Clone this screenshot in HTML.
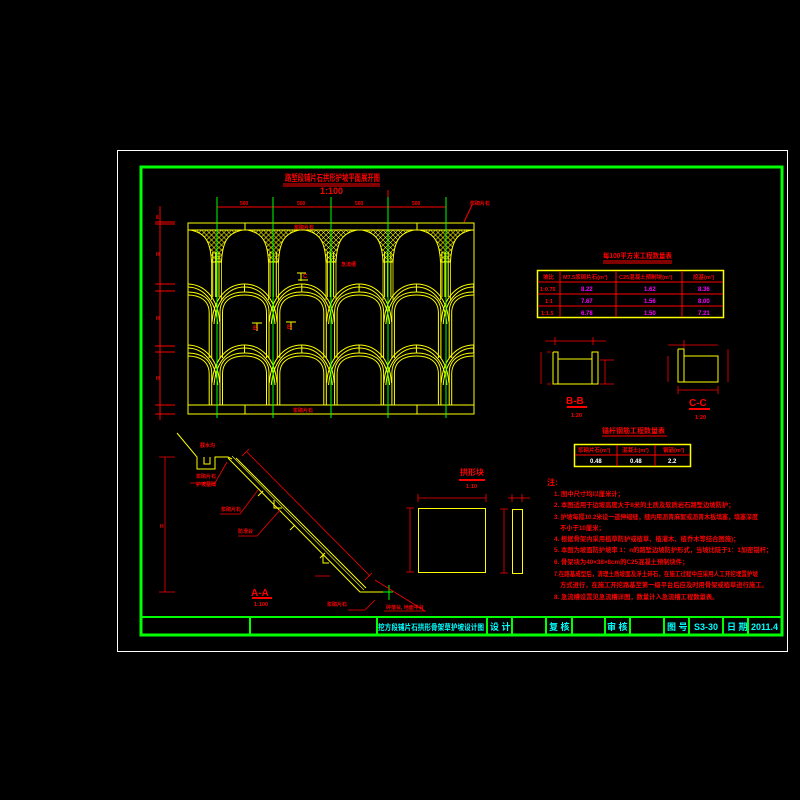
<!DOCTYPE html>
<html><head><meta charset="utf-8"><style>
html,body{margin:0;padding:0;background:#000;}
svg{display:block}
text{font-family:"Liberation Sans","Noto Sans CJK SC",sans-serif;font-weight:bold;}
</style></head><body>
<svg width="800" height="800" viewBox="0 0 800 800" xmlns="http://www.w3.org/2000/svg">
<defs>
<pattern id="lat" width="5" height="5" patternUnits="userSpaceOnUse">
<path d="M0,0 L5,5 M5,0 L0,5" stroke="#ff0" stroke-width="0.6"/>
</pattern>
<clipPath id="cp"><rect x="188" y="223" width="286" height="191"/></clipPath>
<g id="cell" fill="none" stroke="#ff0" stroke-width="1">
<path d="M-4,252 V297 M-1,252 V297 M50,252 V297 M53,252 V297"/>
<path d="M-8,322 C-6,296 9,284 24.5,284 C40,284 55,296 57,322"/>
<path d="M-6,324 C-4,299 10,287 24.5,287 C39,287 53,299 55,324"/>
<path d="M0,358 V312 C0,298 11,292 24.5,292 C38,292 49,298 49,312 V358"/>
<path d="M2.5,358 V313 C2.5,300 12,295 24.5,295 C37,295 46.5,300 46.5,313 V358"/>
<path d="M24.5,284 V292"/>
<path d="M-8,383 C-6,357 9,345 24.5,345 C40,345 55,357 57,383"/>
<path d="M-6,385 C-4,360 10,348 24.5,348 C39,348 53,360 55,385"/>
<path d="M0,405 V373 C0,359 11,353 24.5,353 C38,353 49,359 49,373 V405"/>
<path d="M2.5,405 V374 C2.5,361 12,356 24.5,356 C37,356 46.5,361 46.5,374 V405"/>
<path d="M24.5,345 V353"/>
</g>
<g id="orn">
<path d="M-26,230 H26 C12,233 6,240 5,262 H-5 C-6,240 -12,233 -26,230 Z" fill="url(#lat)" stroke="#ff0" stroke-width="1"/>
<path d="M-5,262 V300 M5,262 V300" stroke="#ff0" stroke-width="0.8"/>
</g>
</defs>

<rect x="117.5" y="150.5" width="670" height="501" fill="none" stroke="#fff" stroke-width="1"/>
<rect x="141" y="167" width="641" height="468" fill="none" stroke="#0f0" stroke-width="3"/>
<line x1="141" y1="617" x2="782" y2="617" stroke="#0f0" stroke-width="2"/>
<g stroke="#0f0" stroke-width="2">
<line x1="250" y1="617" x2="250" y2="635"/><line x1="377" y1="617" x2="377" y2="635"/>
<line x1="487" y1="617" x2="487" y2="635"/><line x1="512" y1="617" x2="512" y2="635"/>
<line x1="546" y1="617" x2="546" y2="635"/><line x1="572" y1="617" x2="572" y2="635"/>
<line x1="605" y1="617" x2="605" y2="635"/><line x1="630" y1="617" x2="630" y2="635"/>
<line x1="664" y1="617" x2="664" y2="635"/><line x1="689" y1="617" x2="689" y2="635"/>
<line x1="723" y1="617" x2="723" y2="635"/><line x1="748" y1="617" x2="748" y2="635"/>
</g>
<g fill="#0ff" font-size="9">
<text x="378" y="630" font-size="8" textLength="106" lengthAdjust="spacingAndGlyphs">挖方段铺片石拱形骨架草护坡设计图</text>
<text x="490" y="630">设 计</text>
<text x="549" y="630">复 核</text>
<text x="607" y="630">审 核</text>
<text x="667" y="630">图 号</text>
<text x="694" y="630">S3-30</text>
<text x="727" y="630">日 期</text>
<text x="751" y="630">2011.4</text>
</g>

<text x="285" y="181" fill="#f00" font-size="9" textLength="95" lengthAdjust="spacingAndGlyphs">路堑段铺片石拱形护坡平面展开图</text>
<line x1="283" y1="184" x2="380" y2="184" stroke="#f00"/><line x1="283" y1="186" x2="380" y2="186" stroke="#f00"/>
<text x="320" y="194" fill="#f00" font-size="9">1:100</text>
<g stroke="#f00" stroke-width="1">
<line x1="217" y1="207" x2="446" y2="207"/>
<line x1="160" y1="206" x2="160" y2="420"/>
<line x1="155" y1="222" x2="175" y2="222"/><line x1="155" y1="224" x2="175" y2="224"/>
<line x1="155" y1="284" x2="175" y2="284"/><line x1="155" y1="291" x2="175" y2="291"/>
<line x1="155" y1="346" x2="175" y2="346"/><line x1="155" y1="352" x2="175" y2="352"/>
<line x1="155" y1="405" x2="175" y2="405"/><line x1="155" y1="414" x2="175" y2="414"/>
<line x1="464" y1="222" x2="472" y2="205"/>
<line x1="388" y1="190" x2="388" y2="200"/>
</g>
<g fill="#f00" font-size="5">
<text x="240" y="205">500</text><text x="297" y="205">500</text><text x="355" y="205">500</text><text x="412" y="205">500</text>
<text x="470" y="205">浆砌片石</text><text x="294" y="229">浆砌片石</text><text x="293" y="412">浆砌片石</text><text x="341" y="266">急流槽</text>
<text x="156" y="219">8</text><text x="156" y="256">H</text><text x="156" y="320">H</text><text x="156" y="380">H</text>
</g>
<g stroke="#ff0" fill="none" stroke-width="1">
<rect x="188" y="223" width="286" height="191"/>
<line x1="188" y1="230" x2="474" y2="230"/>
<line x1="188" y1="405" x2="474" y2="405"/>
<line x1="245" y1="223" x2="245" y2="230"/><line x1="417" y1="223" x2="417" y2="230"/>
<line x1="245" y1="405" x2="245" y2="414"/><line x1="417" y1="405" x2="417" y2="414"/>
</g>
<g clip-path="url(#cp)">
<use href="#cell" x="162.7"/><use href="#cell" x="220"/><use href="#cell" x="277.3"/>
<use href="#cell" x="334.6"/><use href="#cell" x="391.9"/><use href="#cell" x="449.2"/>
<use href="#orn" x="216.5"/><use href="#orn" x="273.5"/><use href="#orn" x="331"/>
<use href="#orn" x="388"/><use href="#orn" x="445.5"/>
</g>
<g stroke="#0f0" stroke-width="1">
<line x1="217" y1="197" x2="217" y2="418"/><line x1="273" y1="197" x2="273" y2="418"/>
<line x1="331" y1="197" x2="331" y2="418"/><line x1="388" y1="197" x2="388" y2="418"/>
<line x1="446" y1="197" x2="446" y2="418"/>
</g>
<g stroke="#ff0" fill="none"><path d="M252,323 h10 M257,323 v8 M286,322 h10 M291,322 v8 M297,273 h9 M301,273 v8 M298,280 h10"/></g>
<g fill="#f00" font-size="6"><text x="253" y="330">B</text><text x="287" y="329">B</text><text x="303" y="278">C</text></g>

<text x="603" y="258" fill="#f00" font-size="7" textLength="69" lengthAdjust="spacingAndGlyphs">每100平方米工程数量表</text>
<line x1="603" y1="261" x2="672" y2="261" stroke="#f00"/><line x1="603" y1="263" x2="672" y2="263" stroke="#f00"/>
<rect x="537.5" y="270.5" width="186" height="47" fill="none" stroke="#ff0" stroke-width="1.5"/>
<g stroke="#f00"><line x1="538" y1="282" x2="723" y2="282"/><line x1="538" y1="294" x2="723" y2="294"/><line x1="538" y1="306" x2="723" y2="306"/>
<line x1="560" y1="271" x2="560" y2="317"/><line x1="616" y1="271" x2="616" y2="317"/><line x1="682" y1="271" x2="682" y2="317"/></g>
<g fill="#f00" font-size="5.5"><text x="543" y="279">坡比</text><text x="563" y="279">M7.5浆砌片石(m³)</text><text x="619" y="279">C25混凝土预制块(m³)</text><text x="693" y="279">挖基(m³)</text>
<text x="540" y="291">1:0.75</text><text x="545" y="303">1:1</text><text x="541" y="315">1:1.5</text></g>
<g fill="#f0f" font-size="6"><text x="581" y="291">8.22</text><text x="644" y="291">1.62</text><text x="698" y="291">8.36</text>
<text x="581" y="303">7.67</text><text x="644" y="303">1.56</text><text x="698" y="303">8.00</text>
<text x="581" y="315">6.78</text><text x="644" y="315">1.50</text><text x="698" y="315">7.21</text></g>

<g stroke="#ff0" fill="none"><path d="M553,352 V384 H598 V352 H592 V384 M553,352 H558 V384 M558,359 H592"/></g>
<g stroke="#f00" fill="none" stroke-width="0.8"><path d="M545,341 H606 M555,337 V345 M593,337 V345 M541,352 V384 M605,360 V384 M547,352 H551 M547,384 H551 M600,384 H614 M600,360 H614"/></g>
<text x="566" y="404" fill="#f00" font-size="10">B-B</text>
<rect x="567" y="406" width="20" height="2" fill="#f00"/>
<text x="571" y="417" fill="#f00" font-size="5.5">1:20</text>
<g stroke="#ff0" fill="none"><path d="M678,349 H684 V382 H718 V356 H684 M678,349 V382 H684"/></g>
<g stroke="#f00" fill="none" stroke-width="0.8"><path d="M668,345 H718 M684,340 V348 M668,356 V382 M678,390 H718 M678,386 V394 M718,386 V394 M728,349 V382"/></g>
<text x="689" y="406" fill="#f00" font-size="10">C-C</text>
<rect x="689" y="408" width="21" height="2" fill="#f00"/>
<text x="695" y="419" fill="#f00" font-size="5.5">1:20</text>

<text x="602" y="433" fill="#f00" font-size="7" textLength="63" lengthAdjust="spacingAndGlyphs">锚杆钢筋工程数量表</text>
<line x1="602" y1="436" x2="667" y2="436" stroke="#f00"/>
<rect x="574.5" y="444.5" width="116" height="22" fill="none" stroke="#ff0" stroke-width="1.5"/>
<g stroke="#f00"><line x1="575" y1="455" x2="690" y2="455"/><line x1="617" y1="445" x2="617" y2="466"/><line x1="655" y1="445" x2="655" y2="466"/></g>
<g fill="#f00" font-size="5.5"><text x="578" y="452">浆砌片石(m³)</text><text x="622" y="452">混凝土(m³)</text><text x="663" y="452">钢筋(m³)</text></g>
<g fill="#fff" font-size="6"><text x="590" y="463">0.48</text><text x="630" y="463">0.48</text><text x="668" y="463">2.2</text></g>

<g fill="#f00" font-size="6.3">
<text x="547" y="485" font-size="8">注:</text>
<text x="554" y="496">1. 图中尺寸均以厘米计；</text>
<text x="554" y="507">2. 本图适用于边坡高度大于8米的土质及软质岩石路堑边坡防护；</text>
<text x="554" y="519" textLength="204" lengthAdjust="spacingAndGlyphs">3. 护坡每隔10.2米设一道伸缩缝，缝内用沥青麻絮或沥青木板填塞，填塞深度</text>
<text x="560" y="530">不小于10厘米；</text>
<text x="554" y="541">4. 根据骨架内采用植草防护或植草、植灌木、植乔木等结合图施)；</text>
<text x="554" y="552">5. 本图为坡面防护坡率 1：n的路堑边坡防护形式，当坡比陡于1：1加密锚杆；</text>
<text x="554" y="564">6. 骨架块为40×38×8cm的C25混凝土预制块件；</text>
<text x="554" y="576" textLength="204" lengthAdjust="spacingAndGlyphs">7.在路基成型后，清理土质坡面及浮土碎石，在施工过程中应采用人工开挖埋置护坡</text>
<text x="560" y="587">方式进行，在施工开挖路基至第一级平台后应及时用骨架或植草进行施工。</text>
<text x="554" y="599">8. 急流槽设置见急流槽详图，数量计入急流槽工程数量表。</text>
</g>

<g stroke="#ff0" fill="none" stroke-width="1">
<path d="M177,433 L197,457 V469 H215 V457 H228 L232,459"/>
<path d="M204,457 V464 H210 V457"/>
<path d="M228,458 L360,592 H390"/>
<path d="M236,458 L366,588"/>
<path d="M232,456 L364,590" stroke-width="0.6"/>
<path d="M258,496 l5,-5 M290,530 l5,-5 M320,558 l5,-5 M274,500 v8 h8 M323,555 v8 h6"/>
</g>
<g stroke="#0f0"><line x1="389" y1="585" x2="389" y2="600"/><line x1="383" y1="592" x2="393" y2="592"/></g>
<g stroke="#f00" fill="none" stroke-width="0.8">
<path d="M165,457 V592 M159,457 H175 M159,592 H175"/>
<path d="M247,452 L370,576 M242,456 L249,449 M365,580 L372,573"/>
<path d="M190,483 H215 L227,462 M220,514 H240 L258,490 M238,536 H257 L280,510 M348,610 H365 L375,600 M384,611 H425 L375,580 M315,576 H330"/>
</g>
<g fill="#f00" font-size="5">
<text x="200" y="447">截水沟</text><text x="196" y="478">浆砌片石</text><text x="196" y="486">护坡基础</text>
<text x="221" y="511">浆砌片石</text><text x="238" y="533">防滑台</text><text x="327" y="606">浆砌片石</text><text x="386" y="609">碎落台, 地面平台</text>
<text x="160" y="528">H</text>
</g>
<text x="251" y="596" fill="#f00" font-size="10">A-A</text>
<rect x="252" y="597" width="20" height="2" fill="#f00"/>
<text x="254" y="606" fill="#f00" font-size="5.5">1:100</text>

<text x="460" y="475" fill="#f00" font-size="8">拱形块</text>
<rect x="459" y="479" width="26" height="2" fill="#f00"/>
<text x="466" y="488" fill="#f00" font-size="5.5">1:10</text>
<rect x="418.5" y="508.5" width="67" height="64" fill="none" stroke="#ff0"/>
<rect x="512.5" y="509.5" width="10" height="64" fill="none" stroke="#ff0"/>
<g stroke="#f00" fill="none" stroke-width="0.8">
<path d="M418,498 H486 M418,494 V502 M486,494 V502 M410,508 V572 M406,508 H414 M406,572 H414 M504,509 V573 M500,509 H508 M500,573 H508 M508,498 H530 M512,494 V502 M522,494 V502"/>
</g>
</svg>
</body></html>
